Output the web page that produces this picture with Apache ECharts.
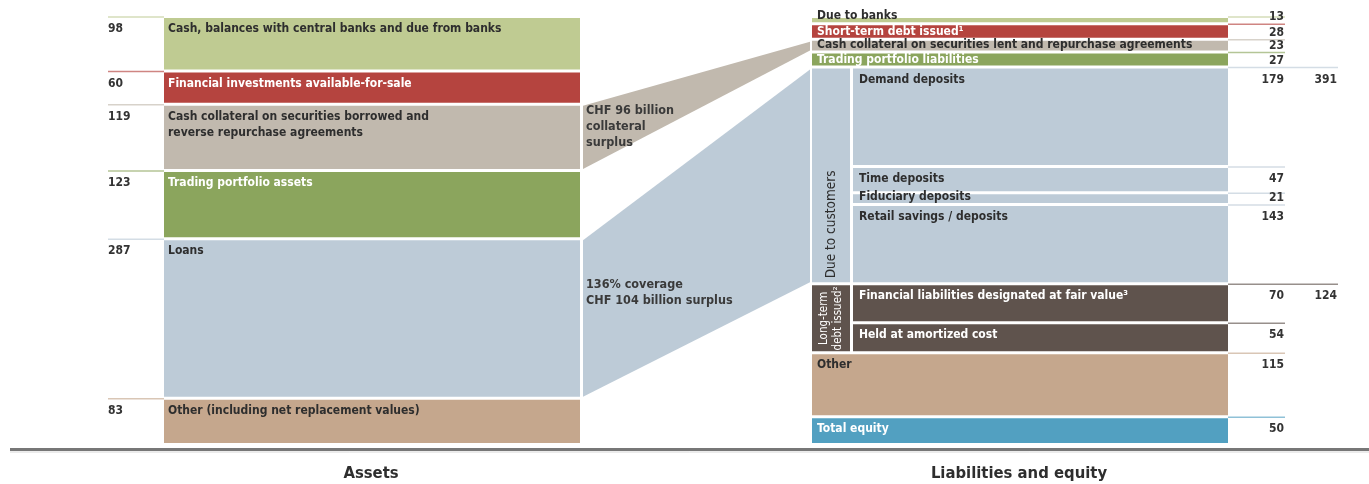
<!DOCTYPE html>
<html><head><meta charset="utf-8">
<script src="https://cdn.jsdelivr.net/npm/echarts@6/dist/echarts.min.js"></script>
<style>html,body{margin:0;padding:0;background:#fff}#c{width:1369px;height:484px}</style>
</head><body><div id="c"></div>
<script>
// ---- Data (CHF billion) ----
const assetLabels = ['Cash, balances with central banks and due from banks', 'Financial investments available-for-sale', 'Cash collateral on securities borrowed and\nreverse repurchase agreements', 'Trading portfolio assets', 'Loans', 'Other (including net replacement values)'];
const assetValues = [98, 60, 119, 123, 287, 83];
const liabLabels = ['Due to banks', 'Short-term debt issued¹', 'Cash collateral on securities lent and repurchase agreements', 'Trading portfolio liabilities', 'Demand deposits', 'Time deposits', 'Fiduciary deposits', 'Retail savings / deposits', 'Financial liabilities designated at fair value³', 'Held at amortized cost', 'Other', 'Total equity'];
const liabValues = [13, 28, 23, 27, 179, 47, 21, 143, 70, 54, 115, 50];
const liabGroup = ['', '', '', '', 'cust', 'cust', 'cust', 'cust', 'ltd', 'ltd', '', ''];
const groupKeys = ['cust', 'ltd'];
const groupLabels = ['Due to customers', 'Long-term\ndebt issued²'];
const groupTotals = [391, 124];
const bridgeLabels = ['CHF 96 billion\ncollateral\nsurplus', '136% coverage\nCHF 104 billion surplus'];
const bridgeAsset = [2, 4];          // asset row index
const bridgeLiabFrom = [2, 4];       // liability row range
const bridgeLiabTo = [2, 7];
const sectionTitles = ['Assets', 'Liabilities and equity'];

// ---- Styles / layout ----
const FONT = '"DejaVu Sans Condensed", "Liberation Sans Narrow", sans-serif';
const assetColors = ['#bfcb92', '#b5443f', '#c1b9ae', '#8ba55d', '#bdcbd7', '#c5a78d'];
const assetText = ['#2e2e2e', '#fff', '#2e2e2e', '#fff', '#2e2e2e', '#2e2e2e'];
const liabColors = ['#bfcb92', '#b5443f', '#c1b9ae', '#8ba55d', '#bdcbd7', '#bdcbd7', '#bdcbd7', '#bdcbd7', '#5f534d', '#5f534d', '#c5a78d', '#52a0c1'];
const liabText = ['#2e2e2e', '#fff', '#2e2e2e', '#fff', '#2e2e2e', '#2e2e2e', '#2e2e2e', '#2e2e2e', '#fff', '#fff', '#2e2e2e', '#fff'];
const A_X0 = 164, A_X1 = 580, A_NUM = 108;
const L_X0 = 812, L_SUB = 853, L_X1 = 1228, L_NUM = 1284, L_TOT = 1337;
const BR_X0 = 583, BR_X1 = 810;
const GAP = 3;

function lighten(hex, t) {
  const n = parseInt(hex.slice(1), 16);
  const r = n >> 16, g = (n >> 8) & 255, b = n & 255;
  const f = c => Math.round(c + (255 - c) * t);
  return 'rgb(' + f(r) + ',' + f(g) + ',' + f(b) + ')';
}
function cum(arr) { const out = []; let s = 0; arr.forEach(v => { out.push(s); s += v; }); return out; }
const assetStart = cum(assetValues);
const liabStart = cum(liabValues);
const total = assetValues.reduce((a, b) => a + b, 0);
const groupRanges = groupKeys.map(k => {
  const idx = liabGroup.map((g, i) => g === k ? i : -1).filter(i => i >= 0);
  return [liabStart[idx[0]], liabStart[idx[idx.length - 1]] + liabValues[idx[idx.length - 1]], idx[0]];
});

function txt(x, y, text, fill, extra) {
  return Object.assign({ type: 'text', x: x, y: y, silent: true,
    style: Object.assign({ text: text, fill: fill, fontFamily: FONT, fontSize: 12, fontWeight: 'bold', lineHeight: 16, align: 'left', verticalAlign: 'top' }, extra && extra.style || {}) },
    extra && extra.el || {});
}

function renderAsset(params, api) {
  const i = params.dataIndex, v = api.value(1), s = assetStart[i];
  const p0 = api.coord([A_X0, s]), p1 = api.coord([A_X1, s + v]);
  const h = p1[1] - p0[1] - GAP;
  return { type: 'group', children: [
    { type: 'rect', shape: { x: p0[0], y: p0[1], width: p1[0] - p0[0], height: h }, style: { fill: assetColors[i] } },
    { type: 'line', shape: { x1: A_NUM, y1: p0[1] - 1, x2: p0[0], y2: p0[1] - 1 }, style: { stroke: lighten(assetColors[i], 0.35), lineWidth: 1.5 } },
    txt(p0[0] + 4, p0[1] + 3, assetLabels[i], assetText[i]),
    txt(A_NUM, p0[1] + 3, String(v), '#333')
  ] };
}

function renderLiab(params, api) {
  const i = params.dataIndex, v = api.value(1), s = liabStart[i];
  const x0 = liabGroup[i] ? L_SUB : L_X0;
  const p0 = api.coord([x0, s]), p1 = api.coord([L_X1, s + v]);
  const h = p1[1] - p0[1] - GAP;
  const small = h < 18;
  const gi = groupKeys.indexOf(liabGroup[i]);
  const isFirst = gi >= 0 && groupRanges[gi][2] === i;
  const lineEnd = isFirst ? L_TOT + 1 : L_NUM + 1;
  const ty = small ? p0[1] + h + 2 : p0[1] + 3;
  const va = small ? 'bottom' : 'top';
  const ch = [
    { type: 'rect', shape: { x: p0[0], y: p0[1], width: p1[0] - p0[0], height: Math.max(h, 2) }, style: { fill: liabColors[i] } },
    { type: 'line', shape: { x1: L_X1, y1: p0[1] - 1, x2: lineEnd, y2: p0[1] - 1 }, style: { stroke: lighten(liabColors[i], 0.35), lineWidth: 1.5 } },
    txt(p0[0] + (liabGroup[i] ? 6 : 5), ty, liabLabels[i], liabText[i], { style: { verticalAlign: va } }),
    txt(L_NUM, small ? p0[1] + h + 3 : p0[1] + 3, String(v), '#333', { style: { align: 'right', verticalAlign: va } })
  ];
  if (isFirst) ch.push(txt(L_TOT, p0[1] + 3, String(groupTotals[gi]), '#333', { style: { align: 'right' } }));
  return { type: 'group', children: ch };
}

function renderGroup(params, api) {
  const i = params.dataIndex;
  const p0 = api.coord([L_X0, api.value(0)]), p1 = api.coord([L_SUB - GAP, api.value(1)]);
  const h = p1[1] - p0[1] - GAP;
  const first = groupRanges[i][2];
  const fill = liabColors[first];
  const isCust = i === 0;
  return { type: 'group', children: [
    { type: 'rect', shape: { x: p0[0], y: p0[1], width: p1[0] - p0[0], height: h }, style: { fill: fill } },
    isCust
      ? txt((p0[0] + p1[0]) / 2, p0[1] + h - 4, groupLabels[i], '#2e2e2e', { el: { rotation: Math.PI / 2 }, style: { align: 'left', verticalAlign: 'middle', fontSize: 13.5, fontWeight: 'normal' } })
      : txt((p0[0] + p1[0]) / 2, p0[1] + h / 2, groupLabels[i], '#fff', { el: { rotation: Math.PI / 2 }, style: { align: 'center', verticalAlign: 'middle', fontSize: 11.5, fontWeight: 'normal', lineHeight: 14 } })
  ] };
}

function renderBridge(params, api) {
  const i = params.dataIndex;
  const a = bridgeAsset[i];
  const aTop = api.coord([BR_X0, assetStart[a]]);
  const aBot = api.coord([BR_X0, assetStart[a] + assetValues[a]]);
  const lTop = api.coord([BR_X1, liabStart[bridgeLiabFrom[i]]]);
  const lj = bridgeLiabTo[i];
  const lBot = api.coord([BR_X1, liabStart[lj] + liabValues[lj]]);
  const fill = assetColors[a];
  const ly = i === 0 ? aTop[1] - 3 : aTop[1] + 36;
  return { type: 'group', children: [
    { type: 'polygon', shape: { points: [[aTop[0], aTop[1]], [lTop[0], lTop[1] + 1], [lBot[0], lBot[1] - GAP], [aBot[0], aBot[1] - GAP]] }, style: { fill: fill } },
    txt(aTop[0] + 3, ly, bridgeLabels[i], '#3a3a3a', { style: { fontSize: 12.5 } })
  ] };
}

const chart = echarts.init(document.getElementById('c'), null, { renderer: 'canvas' });
chart.setOption({
  animation: false,
  backgroundColor: '#fff',
  grid: { left: 0, right: 0, top: 18, bottom: 38 },
  xAxis: { type: 'value', min: 0, max: 1369, show: false },
  yAxis: { type: 'value', min: 0, max: total, inverse: true, show: false },
  series: [
    { type: 'custom', name: 'bridges', renderItem: renderBridge, data: bridgeLabels.map((l, i) => [i, bridgeAsset[i]]), silent: true, z: 1 },
    { type: 'custom', name: 'assets', renderItem: renderAsset, data: assetValues.map((v, i) => [i, v]), silent: true, z: 2 },
    { type: 'custom', name: 'liabilities', renderItem: renderLiab, data: liabValues.map((v, i) => [i, v]), silent: true, z: 2 },
    { type: 'custom', name: 'groups', renderItem: renderGroup, data: groupRanges.map(r => [r[0], r[1]]), silent: true, z: 3 }
  ],
  graphic: [
    { type: 'line', shape: { x1: 10, y1: 449.5, x2: 1369, y2: 449.5 }, style: { stroke: '#777', lineWidth: 3 }, silent: true },
    { type: 'line', shape: { x1: 10, y1: 452, x2: 1369, y2: 452 }, style: { stroke: '#d8d8d8', lineWidth: 1 }, silent: true },
    { type: 'text', x: 371, y: 474, style: { text: sectionTitles[0], fill: '#2e2e2e', fontFamily: FONT, fontSize: 16.5, fontWeight: 'bold', align: 'center', verticalAlign: 'middle' } },
    { type: 'text', x: 1019, y: 474, style: { text: sectionTitles[1], fill: '#2e2e2e', fontFamily: FONT, fontSize: 16.5, fontWeight: 'bold', align: 'center', verticalAlign: 'middle' } }
  ]
});
</script></body></html>
